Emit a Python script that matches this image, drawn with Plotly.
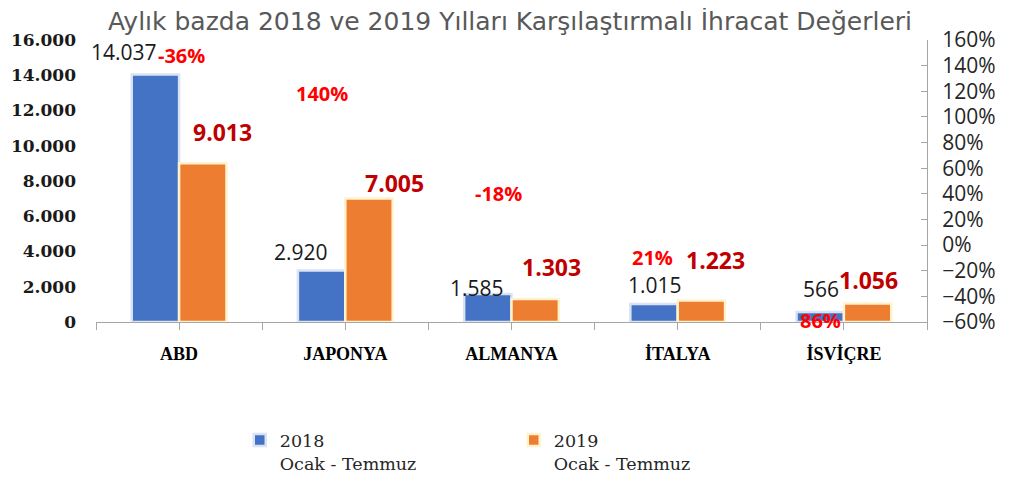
import plotly.graph_objects as go

# ---- data ----
categories = ["ABD", "JAPONYA", "ALMANYA", "İTALYA", "İSVİÇRE"]
values_2018 = [14037, 2920, 1585, 1015, 566]
values_2019 = [9013, 7005, 1303, 1223, 1056]
change_pct = [-36, 140, -18, 21, 86]
series_names = ["2018<br>Ocak - Temmuz", "2019<br>Ocak - Temmuz"]
title_text = "Aylık bazda 2018 ve 2019 Yılları Karşılaştırmalı İhracat Değerleri"

# ---- label placement (layout only) ----
lab18_dx = [-0.332, -0.267, -0.208, -0.137, -0.138]
lab18_y = [15319, 3972, 1929, 2100, 1872]
lab19_dx = [0.264, 0.299, 0.238, 0.225, 0.145]
lab19_y = [10780, 7887, 3121, 3518, 2383]
pct_dx = [0.017, -0.140, -0.081, -0.150, -0.138]
pct_y2 = [148.3, 117.9, 40.6, -9.5, -59.2]

idx = list(range(len(categories)))


def fmt(v):
    return f"{v:,}".replace(",", ".")


fig = go.Figure()
fig.add_trace(go.Bar(x=idx, y=values_2018, name=series_names[0],
                     marker=dict(color="#4472c4", line=dict(color="#dae3f3", width=2.5))))
fig.add_trace(go.Bar(x=idx, y=values_2019, name=series_names[1],
                     marker=dict(color="#ed7d31", line=dict(color="#fff2cc", width=2.5))))

ann = []
for i in idx:
    ann.append(dict(x=i + lab18_dx[i], y=lab18_y[i], xref="x", yref="y", text=fmt(values_2018[i]),
                    showarrow=False, borderpad=0, font=dict(family="Open Sans", size=21, color="#1a1a1a")))
    ann.append(dict(x=i + lab19_dx[i], y=lab19_y[i], xref="x", yref="y", text="<b>" + fmt(values_2019[i]) + "</b>",
                    showarrow=False, borderpad=0, font=dict(family="Open Sans", size=23, color="#c00000")))
    ann.append(dict(x=i + pct_dx[i], y=pct_y2[i], xref="x", yref="y2", text=f"<b>{change_pct[i]}%</b>",
                    showarrow=False, borderpad=0, font=dict(family="Open Sans", size=20, color="#ff0000")))

tickvals = [k / 2 - 0.5 for k in range(2 * len(categories) + 1)]
ticktext = ["" if k % 2 == 0 else categories[k // 2] for k in range(2 * len(categories) + 1)]

fig.update_layout(
    width=1004, height=478,
    margin=dict(l=88, r=85, t=32, b=164, autoexpand=False),
    paper_bgcolor="white", plot_bgcolor="white",
    separators=",.",
    barmode="group", bargap=0.43, bargroupgap=0.0,
    title=dict(text=title_text, x=0.5, xanchor="center", y=0.99, yanchor="top",
               font=dict(family="DejaVu Sans", size=25, color="#595959")),
    xaxis=dict(range=[-0.5, 4.5], tickmode="array", tickvals=tickvals, ticktext=ticktext,
               showgrid=False, zeroline=False, showline=True, linecolor="#a6a6a6", linewidth=1,
               ticks="outside", ticklen=7, tickcolor="#a6a6a6", ticklabelstandoff=8,
               tickfont=dict(family="Liberation Serif", size=18, color="#000000", weight="bold")),
    yaxis=dict(range=[0, 16000], dtick=2000, tickformat=",d", showgrid=False, zeroline=False,
               showline=False, ticks="", ticklabelstandoff=19,
               tickfont=dict(family="DejaVu Serif", size=17, color="#1a1a1a", weight="bold")),
    yaxis2=dict(range=[-60, 160], dtick=20, ticksuffix="%", overlaying="y", side="right",
                showgrid=False, zeroline=False, showline=True, linecolor="#a6a6a6", linewidth=1,
                ticks="inside", ticklen=6, tickcolor="#a6a6a6", ticklabelstandoff=10,
                tickfont=dict(family="Open Sans", size=21, color="#262626")),
    legend=dict(orientation="h", x=0.173, xanchor="left", y=-0.355, yanchor="top",
                valign="top", entrywidth=229, entrywidthmode="pixels", traceorder="normal",
                font=dict(family="DejaVu Serif", size=17.5, color="#262626")),
    annotations=ann,
)

fig.write_html("out.html")
